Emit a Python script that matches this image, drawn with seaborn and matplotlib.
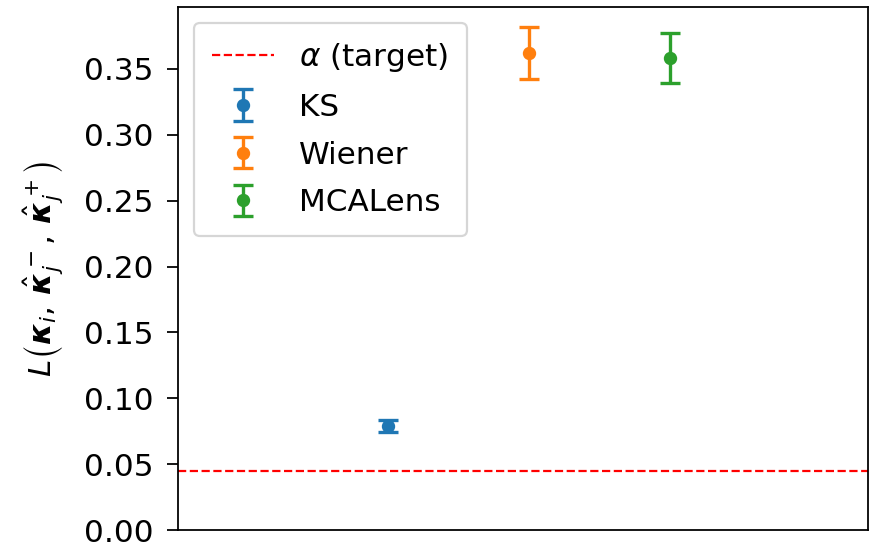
import matplotlib
matplotlib.use("Agg")
import matplotlib.pyplot as plt
import seaborn as sns

# Mean loss and its standard error for each reconstruction method
methods = ["KS", "Wiener", "MCALens"]
loss_mean = [0.079, 0.362, 0.358]
loss_err = [0.0045, 0.020, 0.019]
alpha_target = 0.045

palette = sns.color_palette("tab10", len(methods))

fig = plt.figure(figsize=(882 / 160, 546 / 160), dpi=160)
ax = fig.add_axes([178 / 882, 16 / 546, 690 / 882, 523 / 546])

ax.axhline(alpha_target, color="red", linestyle="--", linewidth=1.0,
           label=r"$\alpha$ (target)")

for i, (name, m, e) in enumerate(zip(methods, loss_mean, loss_err)):
    ax.errorbar([i], [m], yerr=[e], fmt="o", markersize=5, capsize=4.5,
                elinewidth=1.5, capthick=1.5, color=palette[i], label=name)

ax.set_xlim(-1.49, 3.40)
ax.set_ylim(0, 0.397)
ax.set_xticks([])
ax.tick_params(axis="y", labelsize=14, length=5, pad=6)
ax.set_ylabel(r"$L\left(\boldsymbol{\kappa}_i,\, \hat{\boldsymbol{\kappa}}_j^-,\, \hat{\boldsymbol{\kappa}}_j^+\right)$",
              fontsize=14, labelpad=8)
ax.legend(loc="upper left", fontsize=14, borderpad=0.6, labelspacing=0.6)

fig.savefig("out.png", dpi=160)
